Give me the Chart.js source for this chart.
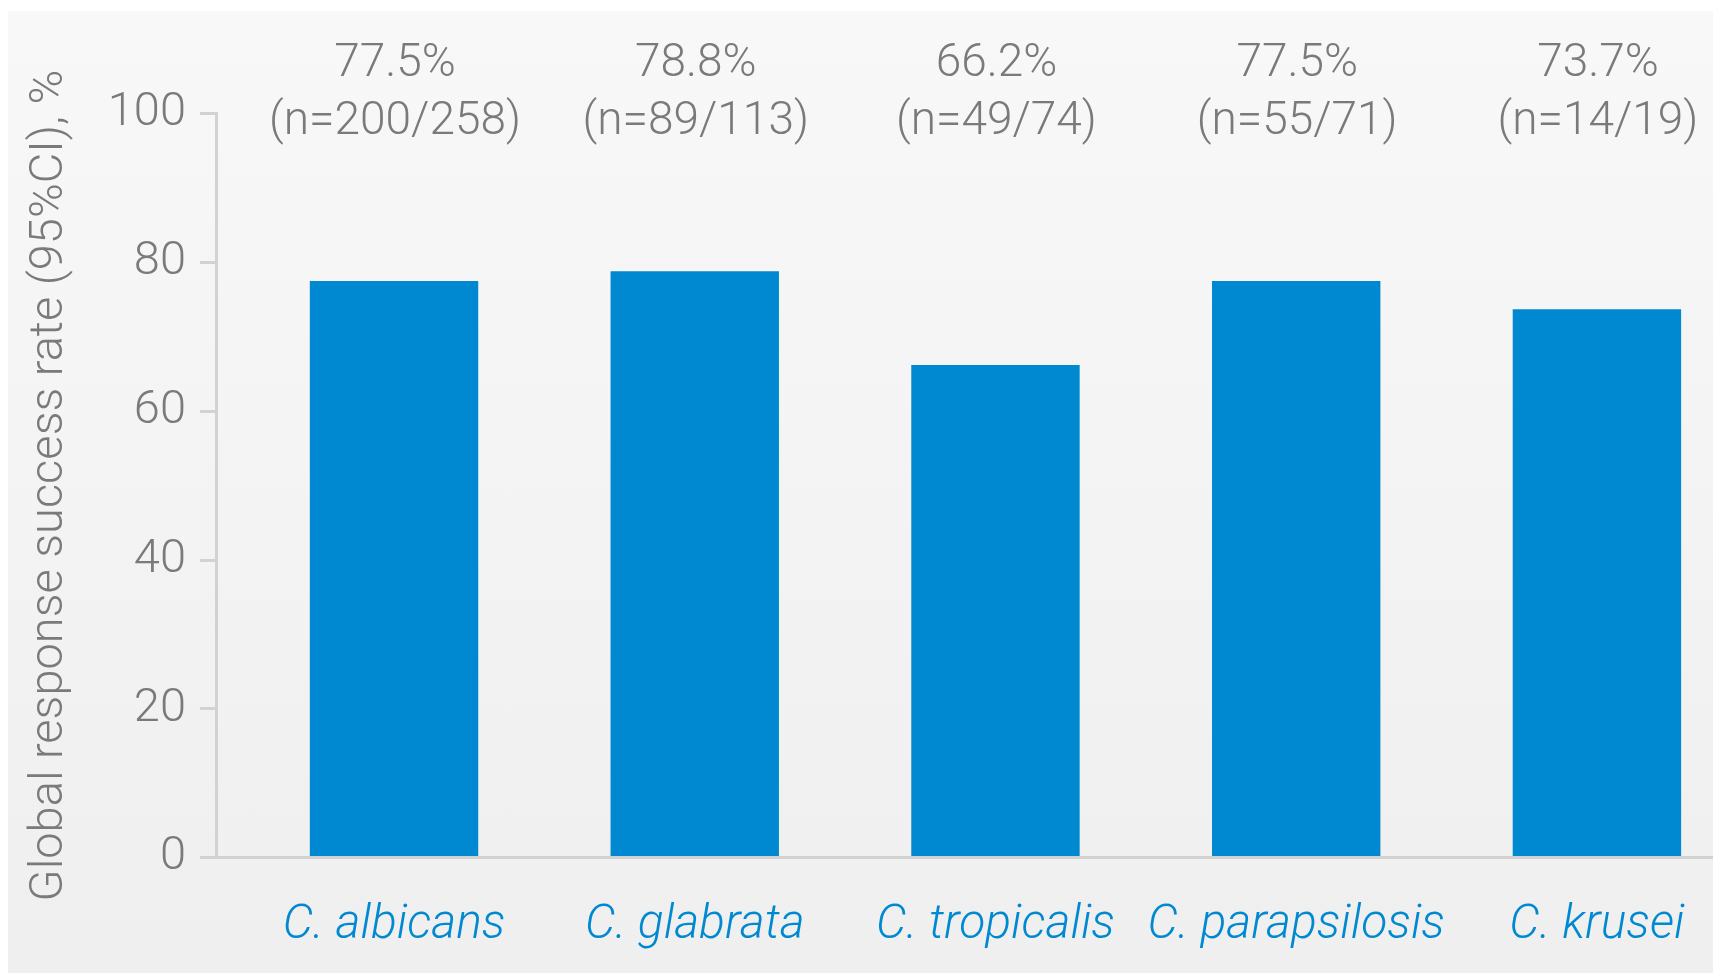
<!DOCTYPE html>
<html><head><meta charset="utf-8">
<script src="https://cdn.jsdelivr.net/npm/chart.js@4/dist/chart.umd.min.js"></script>
<style>
html,body{margin:0;padding:0;background:#fff;overflow:hidden;width:1713px;height:973px;}
#panel{position:absolute;left:8px;top:11px;right:0;bottom:0;background:linear-gradient(#f8f8f8,#efefef);}
#wrap{position:absolute;left:0;top:0;width:1713px;height:973px;}
</style></head><body>
<div id="panel"></div>
<div id="wrap"><canvas id="c" width="1713" height="973"></canvas></div>
<script>
const categories = ['C. albicans','C. glabrata','C. tropicalis','C. parapsilosis','C. krusei'];
const rates = [77.5, 78.8, 66.2, 77.5, 73.7];
const rateLabels = ['77.5%','78.8%','66.2%','77.5%','73.7%'];
const countLabels = ['(n=200/258)','(n=89/113)','(n=49/74)','(n=55/71)','(n=14/19)'];
const yTickValues = [0, 20, 40, 60, 80, 100];
const yTitle = 'Global response success rate (95%CI), %';

const FONT = 'Roboto';
const GRAY = '#7a7a7a';
const AXIS = '#d2d2d2';
const BLUE = '#0089d0';

const topLabels = {
  id: 'topLabels',
  afterDatasetsDraw(chart) {
    const {ctx, chartArea, scales: {x}} = chart;
    ctx.save();
    ctx.font = '300 46px ' + FONT;
    ctx.fillStyle = GRAY;
    ctx.textAlign = 'center';
    ctx.textBaseline = 'alphabetic';
    rates.forEach((v, i) => {
      const px = x.getPixelForValue(i) + 1;
      ctx.fillText(rateLabels[i], px, chartArea.top - 38);
      ctx.fillText(countLabels[i], px, chartArea.top + 20);
    });
    ctx.restore();
  }
};

function draw() {
  new Chart(document.getElementById('c'), {
    type: 'bar',
    data: {
      datasets: [{
        data: rates.map((v, i) => ({x: i, y: v})),
        backgroundColor: BLUE,
        borderWidth: 0,
        categoryPercentage: 1,
        barPercentage: 0.56
      }]
    },
    options: {
      responsive: false,
      animation: false,
      events: [],
      layout: {padding: {top: 113.6, left: 0, right: 0, bottom: 0}},
      plugins: {legend: {display: false}, tooltip: {enabled: false}},
      scales: {
        x: {
          type: 'linear',
          offset: false,
          min: -0.592,
          max: 4.386,
          afterFit(s) { s.height = 973 - 857.6; s.paddingLeft = 0; s.paddingRight = 0; },
          afterBuildTicks(s) { s.ticks = categories.map((c, i) => ({value: i})); },
          grid: {display: true, drawOnChartArea: false, drawTicks: false, offset: false, color: 'rgba(0,0,0,0)'},
          border: {display: true, color: AXIS, width: 3},
          ticks: {
            autoSkip: false,
            maxRotation: 0,
            padding: 40,
            color: BLUE,
            font: {family: FONT, size: 48, style: 'italic', weight: 300},
            callback: (v) => categories[v] ?? ''
          }
        },
        y: {
          min: 0,
          max: 100,
          afterFit(s) { s.width = 216; },
          afterBuildTicks(s) { s.ticks = yTickValues.map(v => ({value: v})); },
          grid: {drawOnChartArea: false, drawTicks: true, tickLength: 16, color: AXIS, lineWidth: 3},
          border: {display: true, color: AXIS, width: 3},
          ticks: {
            padding: 14,
            color: GRAY,
            font: {family: FONT, size: 47, weight: 300}
          },
          title: {
            display: true,
            text: yTitle,
            color: GRAY,
            padding: {top: 22, bottom: 0},
            font: {family: FONT, size: 47, weight: 300}
          }
        }
      }
    },
    plugins: [topLabels]
  });
}
Promise.all([
  document.fonts.load('300 46px Roboto'),
  document.fonts.load('italic 300 46px Roboto')
]).then(draw, draw);
</script>
</body></html>
